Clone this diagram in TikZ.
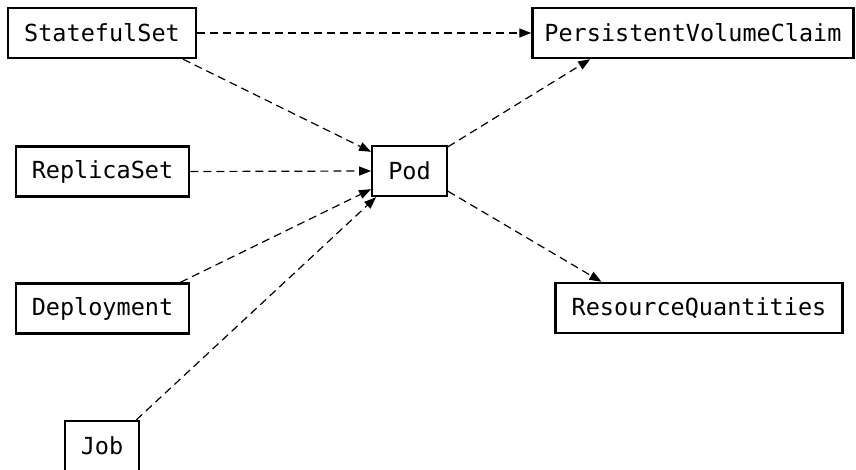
\documentclass[tikz,border=0pt]{standalone}
\usepackage{fontspec}
\setmonofont{DejaVu Sans Mono}
\usetikzlibrary{arrows.meta}

\begin{document}
\begin{tikzpicture}[x=1pt,y=-1pt]
\useasboundingbox (0,0) rectangle (856,470);
\tikzstyle{every node}=[draw,shape=rectangle,line width=2.4pt,minimum height=50pt,inner xsep=16pt,font=\fontsize{23.5}{28}\selectfont\ttfamily];
\node (sts) at (102, 33) {StatefulSet};
\node[inner xsep=12pt] (pvc) at (693, 33) {PersistentVolumeClaim};
\node (rs) at (102.5, 171.5) {ReplicaSet};
\node (pod) at (409.5, 171) {Pod};
\node (dep) at (102.5, 308.5) {Deployment};
\node (rq) at (699, 308) {ResourceQuantities};
\node (job) at (102, 446) {Job};
\tikzstyle{every node}=[];
\tikzstyle{dep}=[dash pattern=on 8pt off 5pt,line width=1.2pt,-{Triangle[length=12pt,width=9pt]}];
\draw [dep] (sts.east) -- (pvc.west);
\draw [dep] ([xshift=-14pt]sts.south east) -- ([yshift=-7pt]pod.north west);
\draw [dep] (rs.east) -- (pod.west);
\draw [dep] ([xshift=-10pt]dep.north east) -- ([yshift=8pt]pod.south west);
\draw [dep] ([xshift=-4pt]job.north east) -- ([xshift=5pt]pod.south west);
\draw [dep] ([yshift=-2pt]pod.north east) -- ([xshift=59pt]pvc.south west);
\draw [dep] ([yshift=6pt]pod.south east) -- ([xshift=47pt]rq.north west);
\end{tikzpicture}
\end{document}
